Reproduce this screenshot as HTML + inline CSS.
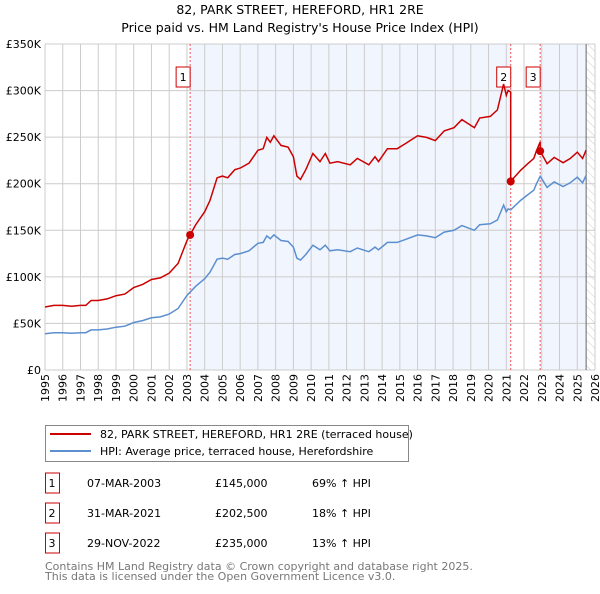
<!DOCTYPE html>
<html><head><meta charset="utf-8">
<style>
body{margin:0;background:#fff;font-family:"DejaVu Sans","Liberation Sans",sans-serif;}
svg text{font-family:"DejaVu Sans","Liberation Sans",sans-serif;}
</style></head>
<body>
<svg id="c" width="600" height="590" xmlns="http://www.w3.org/2000/svg">
<defs><pattern id="hatch" width="6" height="6" patternUnits="userSpaceOnUse" patternTransform="rotate(-45)"><line x1="0" y1="0" x2="0" y2="6" stroke="#ccc" stroke-width="1"/></pattern></defs>
<text x="300" y="14" text-anchor="middle" font-size="12.5">82, PARK STREET, HEREFORD, HR1 2RE</text>
<text x="300" y="32" text-anchor="middle" font-size="12.5">Price paid vs. HM Land Registry's House Price Index (HPI)</text>
<g id="plot"></g>
<g>
<rect x="45.5" y="425.5" width="363" height="36" fill="#fff" stroke="#888"/>
<line x1="50" y1="434" x2="91" y2="434" stroke="#cc0000" stroke-width="2"/>
<text x="100" y="438" font-size="11">82, PARK STREET, HEREFORD, HR1 2RE (terraced house)</text>
<line x1="50" y1="451" x2="91" y2="451" stroke="#5b8fd0" stroke-width="2"/>
<text x="100" y="455" font-size="11">HPI: Average price, terraced house, Herefordshire</text>
</g>
<g id="table"></g>
<text x="45" y="570" font-size="11" fill="#777">Contains HM Land Registry data © Crown copyright and database right 2025.</text>
<text x="45" y="580" font-size="11" fill="#777">This data is licensed under the Open Government Licence v3.0.</text>
</svg>
<script>
const hpiYears=[1995,1995.5,1996,1996.5,1997,1997.3,1997.6,1998,1998.5,1999,1999.5,2000,2000.5,2001,2001.5,2002,2002.5,2003,2003.5,2004,2004.3,2004.7,2005,2005.3,2005.7,2006,2006.5,2007,2007.3,2007.5,2007.7,2007.9,2008.3,2008.7,2009,2009.2,2009.4,2009.7,2010.1,2010.5,2010.8,2011.06,2011.5,2012.2,2012.6,2013.25,2013.6,2013.8,2014.3,2014.85,2015.3,2016,2016.5,2017,2017.5,2018.05,2018.5,2019.2,2019.5,2020.1,2020.5,2020.85,2021.0,2021.1,2021.25,2021.8,2022.2,2022.55,2022.7,2022.91,2023.3,2023.7,2024.2,2024.6,2025,2025.3,2025.5];
const hpiValues=[39,40,40,39.5,40,40,43,43,44,46,47,51,53,56,57,60,66,80,90,98,105,119,120,119,124,125,128,136,137,144,141,145,139,138,132,120,118,124,134,129,134,128,129,127,131,127,132,129,137,137,140,145,144,142,148,150,155,150,156,157,161,177,170,173,172,182,188,193,200,208,196,202,197,201,207,201,209];
const saleYears=[2003.18,2021.25,2022.91];
const salePrices=[145000,202500,235000];
const saleLabels=["1","2","3"];
const saleDates=["07-MAR-2003","31-MAR-2021","29-NOV-2022"];
const salePriceText=["£145,000","£202,500","£235,000"];
const saleHpiText=["69% ↑ HPI","18% ↑ HPI","13% ↑ HPI"];
const yTicks=[0,50000,100000,150000,200000,250000,300000,350000];
const yTickLabels=["£0","£50K","£100K","£150K","£200K","£250K","£300K","£350K"];
const xTicks=[1995,1996,1997,1998,1999,2000,2001,2002,2003,2004,2005,2006,2007,2008,2009,2010,2011,2012,2013,2014,2015,2016,2017,2018,2019,2020,2021,2022,2023,2024,2025,2026];

const NS="http://www.w3.org/2000/svg";
const L=45,R=595,T=44,B=370;
const xS=y=>L+(y-1995)/(2026-1995)*(R-L);
const yS=v=>B-v/350000*(B-T);
const g=document.getElementById('plot');
function mk(tag,at,parent){const e=document.createElementNS(NS,tag);for(const k in at)e.setAttribute(k,at[k]);(parent||g).appendChild(e);return e;}
function hpiAt(t){for(let i=0;i<hpiYears.length-1;i++){if(t>=hpiYears[i]&&t<=hpiYears[i+1]){const f=(t-hpiYears[i])/(hpiYears[i+1]-hpiYears[i]);return (hpiValues[i]+f*(hpiValues[i+1]-hpiValues[i]))*1000;}}return hpiValues[hpiValues.length-1]*1000;}
const endYear=2025.5;
// shading
let sh=mk('rect',{x:xS(saleYears[0]),y:T,width:xS(saleYears[1])-xS(saleYears[0]),height:B-T,fill:'#eef3fc',opacity:0.8});


sh=mk('rect',{x:xS(saleYears[2]),y:T,width:xS(endYear)-xS(saleYears[2]),height:B-T,fill:'#eef3fc',opacity:0.8});


sh=mk('rect',{x:xS(endYear),y:T,width:R-xS(endYear),height:B-T,fill:'url(#hatch)'});


// grid
xTicks.forEach((t,i)=>{
 const x=xS(t);
 mk('line',{x1:x,y1:T,x2:x,y2:B,stroke:'#cccccc','stroke-width':1});
 const tx=mk('text',{x:0,y:0,'font-size':11,'text-anchor':'end',transform:`translate(${x+4},${B+4}) rotate(-90)`});
 tx.textContent=t;
 
 
});
yTicks.forEach((v,i)=>{
 const y=yS(v);
 mk('line',{x1:L,y1:y,x2:R,y2:y,stroke:'#cccccc','stroke-width':1});
 const tx=mk('text',{x:L-4,y:y+4,'font-size':11,'text-anchor':'end'});
 tx.textContent=yTickLabels[i];
 
 
});
mk('line',{x1:xS(endYear),y1:T,x2:xS(endYear),y2:B,stroke:'#666','stroke-width':1});
// sale lines
saleYears.forEach((s,i)=>{
 mk('line',{x1:xS(s),y1:T,x2:xS(s),y2:B,stroke:'#ee5555','stroke-width':1,'stroke-dasharray':'2,2'});
 const bx=xS(s)-8-6;
 const r=mk('rect',{x:bx,y:67,width:14,height:20,fill:'#fff',stroke:'#cc0000','stroke-width':1});
 
 
 const t=mk('text',{x:bx+7,y:81,'font-size':11,'text-anchor':'middle'});
 t.textContent=saleLabels[i];
 
 
});
// hpi line
let d='';hpiYears.forEach((t,i)=>{d+=(i?'L':'M')+xS(t).toFixed(1)+','+yS(hpiValues[i]*1000).toFixed(1);});
const hl=mk('path',{d:d,fill:'none',stroke:'#5b8fd0','stroke-width':1.5});


// property line: HPI scaled by ratio at last sale
let pd='';let first=true;
function ratioFor(t){let k=0;for(let i=0;i<saleYears.length;i++)if(t>=saleYears[i])k=i;return salePrices[k]/hpiAt(saleYears[k]);}
const pts=[];
hpiYears.forEach(t=>pts.push(t));saleYears.forEach(t=>{pts.push(t-0.0001);pts.push(t);});
pts.sort((a,b)=>a-b);
pts.forEach(t=>{const v=hpiAt(t)*ratioFor(t);pd+=(first?'M':'L')+xS(t).toFixed(1)+','+yS(v).toFixed(1);first=false;});
const pl=mk('path',{d:pd,fill:'none',stroke:'#cc0000','stroke-width':1.5});


saleYears.forEach((s,i)=>{
 const c=mk('circle',{cx:xS(s),cy:yS(salePrices[i]),r:4,fill:'#cc0000'});
 
 
});
// table
const tb=document.getElementById('table');
saleYears.forEach((s,i)=>{
 const y=483+i*30;
 const r=mk('rect',{x:45.5,y:y-10,width:14,height:20,fill:'#fff',stroke:'#cc0000'},tb);
 
 
 const cells=[[52,saleLabels[i],'middle'],[87,saleDates[i],'start'],[215,salePriceText[i],'start'],[312,saleHpiText[i],'start']];
 cells.forEach(c=>{const t=mk('text',{x:c[0],y:y+4,'font-size':11,'text-anchor':c[2]},tb);t.textContent=c[1];
 
 });
});
</script>
</body></html>
